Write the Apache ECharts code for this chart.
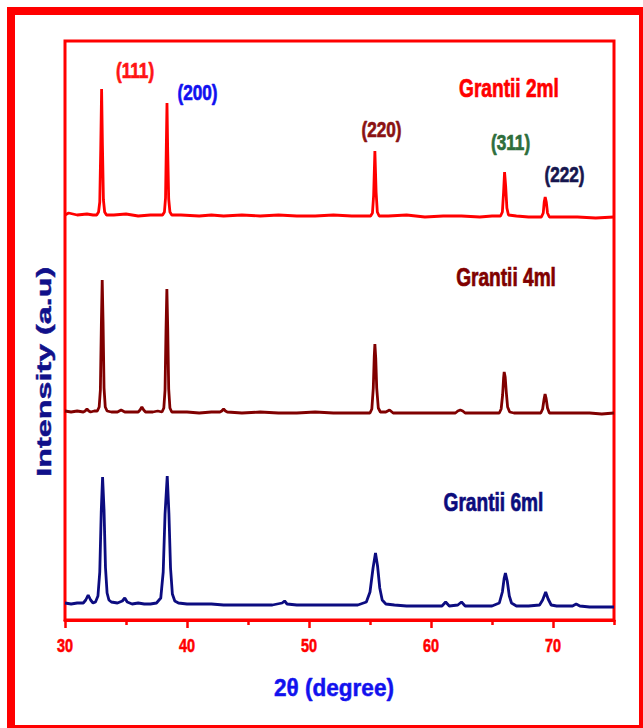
<!DOCTYPE html>
<html><head><meta charset="utf-8">
<script src="https://cdn.jsdelivr.net/npm/echarts@6/dist/echarts.min.js"></script>
<style>html,body{margin:0;padding:0;background:#fff}#c{width:643px;height:728px}</style>
</head><body><div id="c"></div>
<script>
// ---------- DATA ----------
const xTickValues = [30, 40, 50, 60, 70];
const xMinorTickValues = [35, 45, 55, 65, 75];
const sampleNames = ['Grantii 2ml', 'Grantii 4ml', 'Grantii 6ml'];

// intensity (a.u.) vs 2theta, curves already offset as in the figure
const intensity2ml = [
  [30,405],[30.3,407],[31,405],[31.8,406],[32.3,405],[32.6,405],[32.75,408],[32.85,418],[32.93,472],[33.0,531],[33.07,474],[33.15,420],[33.25,408],[33.4,405],
  [34,405],[35,406],[36,404],[37,405],[38.0,405],[38.15,408],[38.24,422],[38.3,470],[38.36,517],[38.42,468],[38.5,421],[38.6,408],[38.75,405],
  [39.5,405],[41,404],[42,405],[43,404],[44.5,405],[46,404],[47.5,405],[49,404],[50.5,404],[52,405],[53.5,404],
  [55.05,404],[55.2,407],[55.3,425],[55.4,469],[55.5,428],[55.6,408],[55.75,404],
  [56.5,404],[58,405],[59.5,403],[61,404],[62.5,404],[64,403],[65,404],
  [65.7,404],[65.85,408],[65.95,428],[66.03,448],[66.12,434],[66.22,412],[66.35,405],
  [67,404],[68,403],[69.05,403],[69.2,407],[69.28,418],[69.36,423],[69.45,418],[69.55,407],[69.7,403],
  [70.5,403],[72,403],[73.5,402],[75,403]
];
const intensity4ml = [
  [30,209],[30.5,208],[31,209],[31.5,208],[31.65,209],[31.8,211],[31.95,209],[32.1,208],[32.4,209],
  [32.65,209],[32.8,213],[32.9,230],[32.98,295],[33.05,340],[33.12,298],[33.2,232],[33.3,213],[33.45,209],
  [33.8,208],[34.3,208],[34.45,209],[34.6,210],[34.75,209],[34.9,208],[35.5,208],[36.0,208],[36.15,210],[36.3,213],[36.45,210],[36.6,208],[37.2,208],[37.6,209],
  [37.95,208],[38.1,212],[38.2,230],[38.28,290],[38.35,331],[38.42,292],[38.5,231],[38.6,212],[38.75,208],
  [39.1,208],[40,208],[41,207],[42,208],[42.7,208],[42.85,209],[43.0,211],[43.15,209],[43.3,208],[44.5,207],[46,208],[47.5,207],[49,207],[50.5,208],[52,207],[53.5,207],[54.5,207],
  [55.0,207],[55.15,211],[55.27,232],[55.35,264],[55.4,276],[55.47,262],[55.55,232],[55.68,212],[55.85,208],
  [56.3,208],[56.6,210],[56.9,207],[58,207],[59.5,207],[61,207],[62,207],[62.2,209],[62.4,210],[62.6,209],[62.8,207],[64,207],[65,207],
  [65.6,207],[65.75,211],[65.87,225],[65.95,242],[66.0,248],[66.08,243],[66.17,228],[66.28,213],[66.45,208],
  [66.8,207],[67.5,207],[68.5,207],
  [69.0,207],[69.15,211],[69.27,221],[69.35,226],[69.43,222],[69.55,212],[69.7,207],
  [70.2,207],[71.5,207],[73,207],[74,206],[75,207]
];
const intensity6ml = [
  [30,17],[30.5,16],[31,17],[31.5,17],[31.7,20],[31.9,25],[32.1,20],[32.3,17],[32.5,18],
  [32.7,24],[32.85,48],[32.97,108],[33.08,143],[33.2,110],[33.32,52],[33.45,27],[33.6,20],[33.8,18],
  [34.3,17],[34.7,19],[34.9,22],[35.1,18],[35.5,16],[36,17],[36.5,16],[37,16],[37.5,17],
  [37.85,22],[38.05,48],[38.2,106],[38.38,144],[38.52,106],[38.65,52],[38.8,26],[39,19],[39.3,17],
  [40,16],[41,16],[42,16],[43,15],[44,15],[45,15],[46,15],[47,15],[47.8,17],[48.0,19],[48.2,16],[49,15],[50,15],[51,15],[52,15],[53,15],[54,15],
  [54.7,18],[55.0,28],[55.25,52],[55.45,67],[55.62,54],[55.8,32],[56.0,20],[56.3,16],
  [57,15],[58,14],[59,14],[60,14],[60.9,14],[61.2,18],[61.5,14],[62.2,15],[62.5,18],[62.8,14],[64,14],[65,14],
  [65.6,17],[65.85,28],[66.0,42],[66.1,47],[66.25,39],[66.42,24],[66.6,17],[67,14],[68,14],
  [68.9,15],[69.15,20],[69.4,28],[69.6,21],[69.85,15],[70.3,14],[71,14],[71.6,14],[71.9,16],[72.2,14],[73,13],[74,13],[75,13]
];

const peakLabels = ['(111)', '(200)', '(220)', '(311)', '(222)'];
const peakLabelAt = [[35.74, 550], [40.86, 528], [55.94, 491], [66.52, 478], [70.94, 446]];
const sampleLabelAt = [[66.39, 531], [66.15, 342], [65.12, 117]];

// ---------- STYLE ----------
const FONT = '"Liberation Sans", Arial, sans-serif';
const lineColors = ['#ff0000', '#800000', '#0c0c80'];
const sampleLabelColors = ['#ff0000', '#800000', '#0c0c7c'];
const peakLabelColors = ['#ff1414', '#1010f0', '#8b1212', '#2e6e3c', '#16164e'];

const chart = echarts.init(document.getElementById('c'), null, { renderer: 'svg' });

function textSeries(labels, at, colors, size, sx) {
  return {
    type: 'custom', coordinateSystem: 'cartesian2d', xAxisIndex: 0, yAxisIndex: 0,
    clip: false, silent: true, z: 5, animation: false,
    data: at.map((p, i) => [p[0], p[1], i]),
    renderItem: function (params, api) {
      const p = api.coord([api.value(0), api.value(1)]);
      const i = api.value(2);
      return { type: 'text', x: p[0], y: p[1], scaleX: sx,
        style: { text: labels[i], fill: colors[i], stroke: colors[i], lineWidth: 0.7,
                 fontSize: size, fontWeight: 'bold', fontFamily: FONT,
                 align: 'center', verticalAlign: 'middle' } };
    }
  };
}

const tickLabelSeries = {
  type: 'custom', coordinateSystem: 'cartesian2d', xAxisIndex: 0, yAxisIndex: 0,
  clip: false, silent: true, z: 5, animation: false,
  data: xTickValues.map(v => [v, 0]),
  renderItem: function (params, api) {
    const p = api.coord([api.value(0), api.value(1)]);
    return { type: 'text', x: p[0], y: p[1] + 26, scaleX: 0.76,
      style: { text: String(api.value(0)), fill: '#ff0000', stroke: '#ff0000', lineWidth: 0.6,
               fontSize: 19, fontWeight: 'bold', fontFamily: FONT,
               align: 'center', verticalAlign: 'middle' } };
  }
};

function lineSeries(name, data, color) {
  return { name: name, type: 'line', data: data, showSymbol: false, symbol: 'none', smooth: false,
    lineStyle: { color: color, width: 2.8 }, z: 3, animation: false };
}

chart.setOption({
  backgroundColor: '#ffffff',
  animation: false,
  grid: { left: 65, right: 29, top: 41, bottom: 108, show: true, borderColor: '#ff0000', borderWidth: 3, containLabel: false },
  xAxis: [
    { type: 'value', min: 30, max: 75, position: 'bottom',
      axisLine: { show: true, lineStyle: { color: '#ff0000', width: 3 } },
      axisTick: { show: true, customValues: xMinorTickValues, length: 5, lineStyle: { color: '#ff0000', width: 2.5 } },
      axisLabel: { show: false }, splitLine: { show: false } },
    { type: 'value', min: 30, max: 75, position: 'bottom',
      axisLine: { show: false },
      axisTick: { show: true, customValues: xTickValues, length: 8, lineStyle: { color: '#ff0000', width: 2.5 } },
      axisLabel: { show: false }, splitLine: { show: false } }
  ],
  yAxis: { type: 'value', min: 0, max: 579, show: false, splitLine: { show: false } },
  series: [
    lineSeries(sampleNames[0], intensity2ml, lineColors[0]),
    lineSeries(sampleNames[1], intensity4ml, lineColors[1]),
    lineSeries(sampleNames[2], intensity6ml, lineColors[2]),
    textSeries(peakLabels, peakLabelAt, peakLabelColors, 22, 0.78),
    textSeries(sampleNames, sampleLabelAt, sampleLabelColors, 25.5, 0.75),
    tickLabelSeries
  ],
  graphic: [
    { type: 'rect', shape: { x: 11, y: 11, width: 632, height: 718 }, silent: true, z: 10,
      style: { fill: 'none', stroke: '#ff0000', lineWidth: 8 } },
    { type: 'text', x: 334, y: 687.4, scaleX: 0.92, silent: true,
      style: { text: '2θ (degree)', fill: '#1212ee', stroke: '#1212ee', lineWidth: 0.5,
               fontSize: 24.5, fontWeight: 'bold', fontFamily: FONT,
               align: 'center', verticalAlign: 'middle' } },
    { type: 'text', x: 44.7, y: 371.7, rotation: Math.PI / 2, scaleX: 1.196, scaleY: 0.724, silent: true,
      style: { text: 'Intensity (a.u)', fill: '#10108a', stroke: '#10108a', lineWidth: 0.6,
               fontSize: 27, fontWeight: 'bold', fontFamily: FONT,
               align: 'center', verticalAlign: 'middle' } }
  ]
});
</script>
</body></html>
